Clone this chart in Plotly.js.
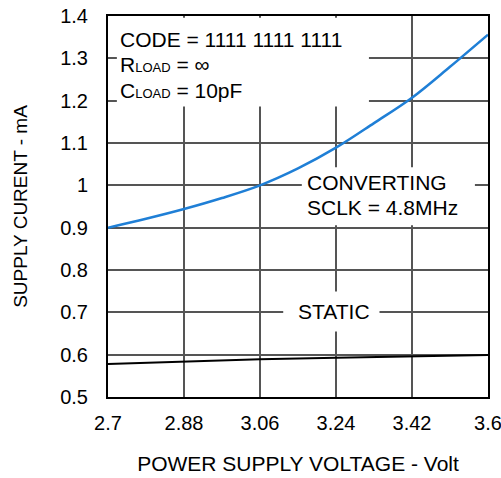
<!DOCTYPE html>
<html>
<head>
<meta charset="utf-8">
<script src="https://cdn.plot.ly/plotly-3.0.1.min.js"></script>
<style>html,body{margin:0;padding:0;background:#fff;}#chart{width:501px;height:478px;}</style>
</head>
<body>
<div id="chart"></div>
<script>
const convVoltage = [2.7, 2.79, 2.88, 2.97, 3.06, 3.15, 3.24, 3.33, 3.42, 3.51, 3.6];
const convCurrent = [0.9, 0.921, 0.944, 0.970, 1.0, 1.040, 1.089, 1.147, 1.207, 1.280, 1.356];
const staticVoltage = [2.7, 2.88, 3.06, 3.24, 3.42, 3.6];
const staticCurrent = [0.578, 0.584, 0.589, 0.593, 0.596, 0.599];
const xTicks = [2.7, 2.88, 3.06, 3.24, 3.42, 3.6];
const xTickLabels = ['2.7', '2.88', '3.06', '3.24', '3.42', '3.6'];
const yTicks = [0.5, 0.6, 0.7, 0.8, 0.9, 1.0, 1.1, 1.2, 1.3, 1.4];
const yTickLabels = ['0.5', '0.6', '0.7', '0.8', '0.9', '1', '1.1', '1.2', '1.3', '1.4'];
const noteLines = ['CODE = 1111 1111 1111',
  'R<span style="font-size:13px">LOAD</span> = ∞',
  'C<span style="font-size:13px">LOAD</span> = 10pF'];
const convLines = ['CONVERTING', 'SCLK = 4.8MHz'];
const staticLabel = 'STATIC';

const FONT = 'Liberation Sans, Arial, sans-serif';

const traces = [
  {x: convVoltage, y: convCurrent, mode: 'lines', line: {color: '#1f7fd6', width: 2.5, shape: 'spline'}, hoverinfo: 'skip'},
  {x: staticVoltage, y: staticCurrent, mode: 'lines', line: {color: '#000', width: 2}, hoverinfo: 'skip'}
];

function note(text, x, y, anchor) {
  return {xref: 'x', yref: 'y', x: x, y: y, xanchor: anchor, yanchor: 'middle', align: 'left',
    showarrow: false, borderpad: 0, text: text, font: {size: 21, family: FONT, color: '#000'}};
}

const layout = {
  width: 501, height: 478,
  margin: {l: 108, r: 13, t: 16, b: 81},
  paper_bgcolor: '#fff', plot_bgcolor: '#fff',
  showlegend: false,
  font: {family: FONT, color: '#000', size: 20},
  xaxis: {
    range: [2.7, 3.6], tickvals: xTicks, ticktext: xTickLabels,
    showgrid: true, gridcolor: '#555', gridwidth: 2,
    showline: true, linecolor: '#000', linewidth: 2, mirror: true,
    ticks: '', zeroline: false, tickfont: {size: 20, family: FONT},
    ticklabelstandoff: 7, ticklabeloverflow: 'allow',
    title: {text: 'POWER SUPPLY VOLTAGE - Volt', font: {size: 21, family: FONT}, standoff: 23}
  },
  yaxis: {
    range: [0.5, 1.4], tickvals: yTicks, ticktext: yTickLabels,
    showgrid: true, gridcolor: '#555', gridwidth: 2,
    showline: true, linecolor: '#000', linewidth: 2, mirror: true,
    ticks: '', zeroline: false, tickfont: {size: 20, family: FONT},
    ticklabelstandoff: 14, ticklabeloverflow: 'allow',
    title: {text: 'SUPPLY CURENT - mA', font: {size: 19, family: FONT}, standoff: 28}
  },
  shapes: [
    {type: 'rect', xref: 'x', yref: 'y', x0: 2.721, x1: 3.318, y0: 1.186, y1: 1.396, fillcolor: '#fff', line: {width: 0}, layer: 'between'},
    {type: 'rect', xref: 'x', yref: 'y', x0: 3.159, x1: 3.569, y0: 0.906, y1: 1.0425, fillcolor: '#fff', line: {width: 0}, layer: 'between'},
    {type: 'rect', xref: 'x', yref: 'y', x0: 3.115, x1: 3.343, y0: 0.6545, y1: 0.7495, fillcolor: '#fff', line: {width: 0}, layer: 'between'}
  ],
  annotations: [
    note(noteLines[0], 2.726, 1.3444, 'left'),
    note(noteLines[1], 2.726, 1.2853, 'left'),
    note(noteLines[2], 2.726, 1.2251, 'left'),
    note(convLines[0], 3.169, 1.0059, 'left'),
    note(convLines[1], 3.169, 0.948, 'left'),
    note(staticLabel, 3.235, 0.701, 'center')
  ]
};

Plotly.newPlot('chart', traces, layout, {staticPlot: true, displayModeBar: false});
</script>
</body>
</html>
